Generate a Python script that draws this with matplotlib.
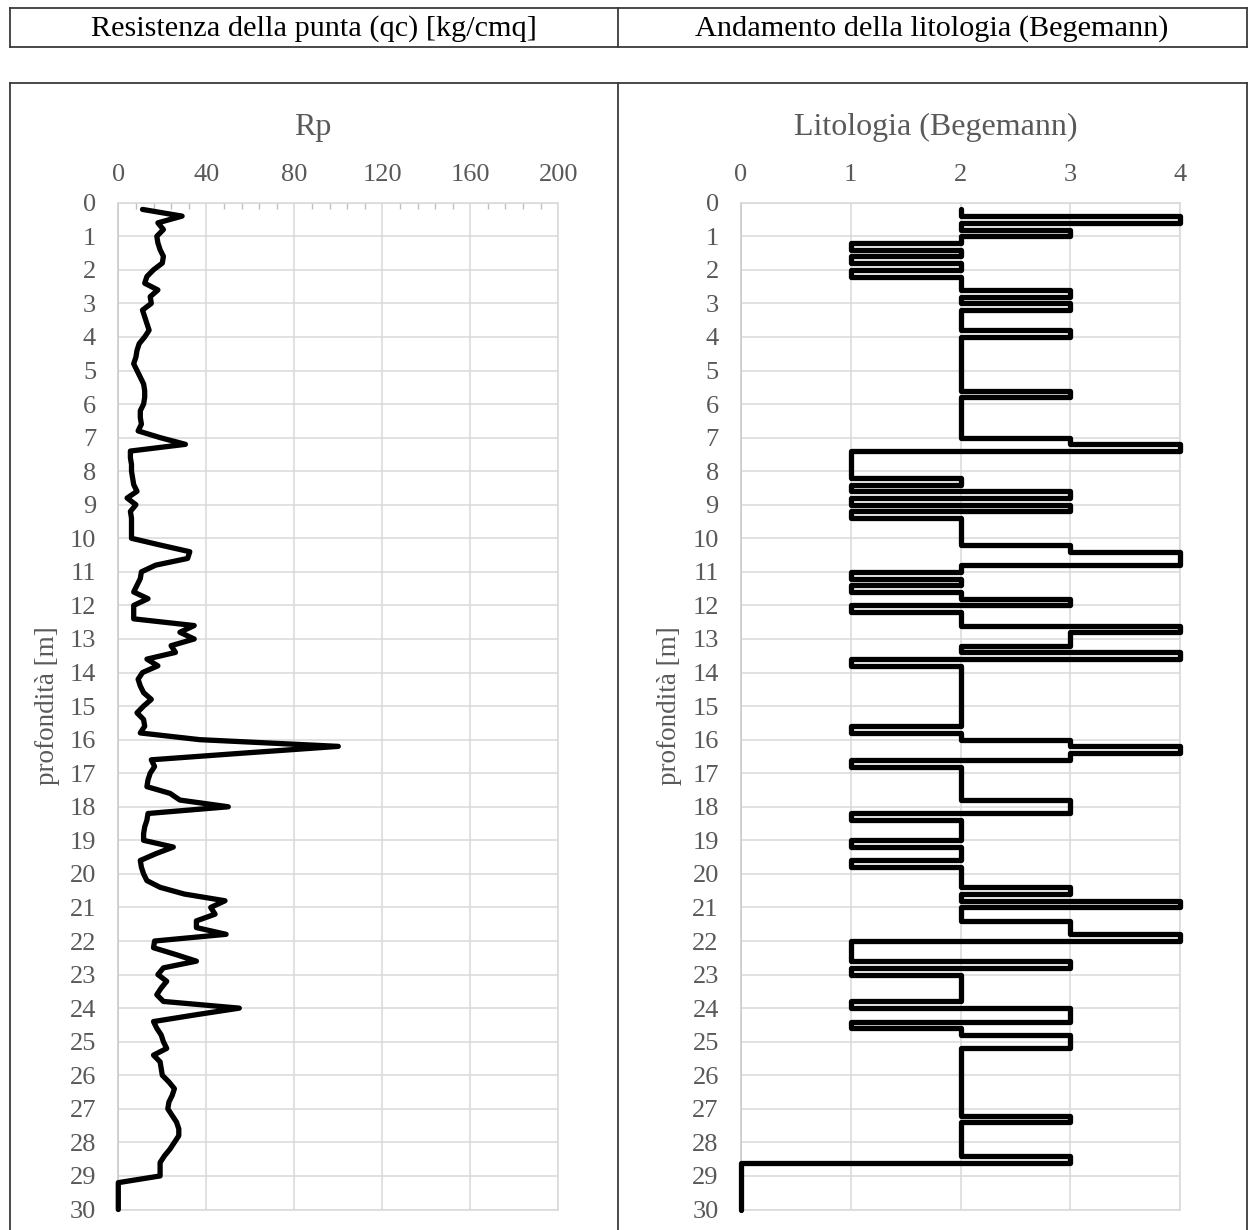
"""CPT log: cone resistance (Rp) and Begemann lithology vs depth."""

import matplotlib.pyplot as plt
from matplotlib.lines import Line2D
from matplotlib.ticker import MultipleLocator

# ---------------------------------------------------------------------------
# Style
# ---------------------------------------------------------------------------
W, H = 1257, 1230
FONT = "Liberation Serif"
LABEL = "#595959"
GRID = "#d9d9d9"
FRAME = "#3a3a3a"

# ---------------------------------------------------------------------------
# Data
# ---------------------------------------------------------------------------
# Rp readings, one every 20 cm
RP_DEPTH = [
    0.2, 0.4, 0.6, 0.8, 1.0, 1.2, 1.4, 1.6, 1.8, 2.0,
    2.2, 2.4, 2.6, 2.8, 3.0, 3.2, 3.4, 3.6, 3.8, 4.0,
    4.2, 4.4, 4.6, 4.8, 5.0, 5.2, 5.4, 5.6, 5.8, 6.0,
    6.2, 6.4, 6.6, 6.8, 7.0, 7.2, 7.4, 7.6, 7.8, 8.0,
    8.2, 8.4, 8.6, 8.8, 9.0, 9.2, 9.4, 9.6, 9.8, 10.0,
    10.2, 10.4, 10.6, 10.8, 11.0, 11.2, 11.4, 11.6, 11.8, 12.0,
    12.2, 12.4, 12.6, 12.8, 13.0, 13.2, 13.4, 13.6, 13.8, 14.0,
    14.2, 14.4, 14.6, 14.8, 15.0, 15.2, 15.4, 15.6, 15.8, 16.0,
    16.2, 16.4, 16.6, 16.8, 17.0, 17.2, 17.4, 17.6, 17.8, 18.0,
    18.2, 18.4, 18.6, 18.8, 19.0, 19.2, 19.4, 19.6, 19.8, 20.0,
    20.2, 20.4, 20.6, 20.8, 21.0, 21.2, 21.4, 21.6, 21.8, 22.0,
    22.2, 22.4, 22.6, 22.8, 23.0, 23.2, 23.4, 23.6, 23.8, 24.0,
    24.2, 24.4, 24.6, 24.8, 25.0, 25.2, 25.4, 25.6, 25.8, 26.0,
    26.2, 26.4, 26.6, 26.8, 27.0, 27.2, 27.4, 27.6, 27.8, 28.0,
    28.2, 28.4, 28.6, 28.8, 29.0, 29.2, 29.4, 29.6, 29.8, 30.0,
]
RP_VALUE = [
    11, 29, 18, 20.5, 17.5, 18, 19, 20.5, 20, 16,
    13, 12, 18, 14.5, 15, 11, 12, 13, 14, 12,
    9.5, 8.5, 8, 7, 8.5, 10, 11.5, 12, 12, 11.5,
    10, 10, 10.5, 9, 19, 30.5, 5.5, 5.5, 6, 6,
    6.5, 7, 8.5, 4, 8, 5.5, 6, 6, 6, 6,
    19, 32.5, 31.5, 17, 10.5, 10, 8.5, 7, 13.5, 7,
    7, 7, 34.5, 28, 34.5, 24, 26, 13, 18, 11,
    9, 10, 11.5, 15, 11.5, 8.5, 11.5, 12, 10, 37,
    100, 57, 15, 16.5, 14.5, 13.5, 13, 23.5, 28, 50,
    13.5, 13, 12, 11.5, 11.5, 25, 17, 10, 10.5, 11.5,
    13, 19, 30, 48.5, 42, 44, 35.5, 35.5, 49, 16.5,
    16, 26, 35.5, 20.5, 18, 22, 19.5, 17.5, 20.5, 55,
    35, 16, 17.5, 19.5, 20.5, 22, 16, 19, 19.5, 20,
    23, 25.5, 24.5, 23, 22.5, 24.5, 26.5, 27.5, 27.5, 25.5,
    23.5, 21, 19, 19, 19, 0, 0, 0, 0, 0,
]

# Begemann lithology class, as runs: top of each run and its class
LITO_TOP = [
    0.2, 0.4, 0.6, 0.8, 1.0, 1.2, 1.4, 1.6, 1.8, 2.0,
    2.2, 2.6, 2.8, 3.0, 3.2, 3.8, 4.0, 5.6, 5.8, 7.0,
    7.2, 7.4, 8.2, 8.4, 8.6, 8.8, 9.0, 9.2, 9.4, 10.2,
    10.4, 10.8, 11.0, 11.2, 11.4, 11.6, 11.8, 12.0, 12.2, 12.6,
    12.8, 13.2, 13.4, 13.6, 13.8, 15.6, 15.8, 16.0, 16.2, 16.4,
    16.6, 16.8, 17.8, 18.2, 18.4, 19.0, 19.2, 19.6, 19.8, 20.4,
    20.6, 20.8, 21.0, 21.4, 21.8, 22.0, 22.6, 22.8, 23.0, 23.8,
    24.0, 24.4, 24.6, 24.8, 25.2, 27.2, 27.4, 28.4, 28.6,
]
LITO_CLASS = [
    2, 4, 2, 3, 2, 1, 2, 1, 2, 1,
    2, 3, 2, 3, 2, 3, 2, 3, 2, 3,
    4, 1, 2, 1, 3, 1, 3, 1, 2, 3,
    4, 2, 1, 2, 1, 2, 3, 1, 2, 4,
    3, 2, 4, 1, 2, 1, 2, 3, 4, 3,
    1, 2, 3, 1, 2, 1, 2, 1, 2, 3,
    2, 4, 2, 3, 4, 1, 3, 1, 2, 1,
    3, 1, 2, 3, 2, 3, 2, 3, 0,
]
LITO_BOTTOM = 30.0

DEPTH_TICKS = list(range(0, 31))
RP_TICKS = [0, 40, 80, 120, 160, 200]
LITO_TICKS = [0, 1, 2, 3, 4]


# ---------------------------------------------------------------------------
# Helpers
# ---------------------------------------------------------------------------
def fx(px):
    return px / W


def fy(py):
    return 1 - py / H


def frame_line(fig, x0, y0, x1, y1):
    fig.add_artist(Line2D([fx(x0), fx(x1)], [fy(y0), fy(y1)],
                          color=FRAME, linewidth=1.3))


def style_axes(ax, xmax, xticks):
    ax.set_xlim(0, xmax)
    ax.set_ylim(30, 0)
    ax.set_xticks(xticks)
    ax.set_yticks(DEPTH_TICKS)
    ax.xaxis.tick_top()
    ax.tick_params(axis="x", which="major", length=0, pad=12,
                   labelsize=19, labelcolor=LABEL)
    ax.tick_params(axis="y", length=0, pad=16, labelsize=19,
                   labelcolor=LABEL)
    for lbl in ax.get_xticklabels() + ax.get_yticklabels():
        lbl.set_family(FONT)
    ax.grid(True, color=GRID, linewidth=1.1)
    ax.set_axisbelow(True)
    for name, spine in ax.spines.items():
        spine.set_color("#c8c8c8" if name == "left" else GRID)
        spine.set_linewidth(1.1)


# ---------------------------------------------------------------------------
# Figure
# ---------------------------------------------------------------------------
fig = plt.figure(figsize=(W / 100, H / 100), dpi=100, facecolor="white")

# header boxes
frame_line(fig, 10, 8, 1247, 8)
frame_line(fig, 10, 47, 1247, 47)
frame_line(fig, 10, 8, 10, 47)
frame_line(fig, 618, 8, 618, 47)
frame_line(fig, 1247, 8, 1247, 47)
fig.text(fx(314), fy(28.5), "Resistenza della punta (qc) [kg/cmq]",
         ha="center", va="center", fontsize=21.8, family=FONT, color="black")
fig.text(fx(932), fy(28.5), "Andamento della litologia (Begemann)",
         ha="center", va="center", fontsize=21.8, family=FONT, color="black")

# chart frame
frame_line(fig, 10, 83, 1247, 83)
frame_line(fig, 10, 83, 10, H + 5)
frame_line(fig, 618, 83, 618, H + 5)
frame_line(fig, 1247, 83, 1247, H + 5)

ax_top, ax_bot = 202.7, 1209.5
ax_h = (ax_bot - ax_top) / H

# --- Rp -------------------------------------------------------------------
ax1 = fig.add_axes([fx(118.3), fy(ax_bot), 440 / W, ax_h])
style_axes(ax1, 200, RP_TICKS)
ax1.xaxis.set_minor_locator(MultipleLocator(8))
ax1.tick_params(axis="x", which="minor", direction="in", length=4,
                width=1.0, color="#bfbfbf", top=True, bottom=False)
ax1.plot(RP_VALUE, RP_DEPTH, color="black", linewidth=3.8, zorder=3,
         solid_joinstyle="round", solid_capstyle="round", clip_on=False)
fig.text(fx(313), fy(127), "Rp", ha="center", va="center",
         fontsize=23, family=FONT, color=LABEL)
fig.text(fx(48), fy(706), "profondità [m]", rotation=90, ha="center",
         va="center", fontsize=19.5, family=FONT, color=LABEL)

# --- Lithology --------------------------------------------------------------
ax2 = fig.add_axes([fx(741), fy(ax_bot), 439 / W, ax_h])
style_axes(ax2, 4, LITO_TICKS)
lx, ly = [], []
for i, (top, cls) in enumerate(zip(LITO_TOP, LITO_CLASS)):
    bot = LITO_TOP[i + 1] if i + 1 < len(LITO_TOP) else LITO_BOTTOM
    lx += [cls, cls]
    ly += [top, bot]
ax2.plot(lx, ly, color="black", linewidth=3.8, zorder=3,
         solid_joinstyle="round", solid_capstyle="round", clip_on=False)
fig.text(fx(936), fy(127), "Litologia (Begemann)", ha="center",
         va="center", fontsize=23, family=FONT, color=LABEL)
fig.text(fx(670), fy(706), "profondità [m]", rotation=90, ha="center",
         va="center", fontsize=19.5, family=FONT, color=LABEL)

fig.savefig("out.png", dpi=100, facecolor="white")
